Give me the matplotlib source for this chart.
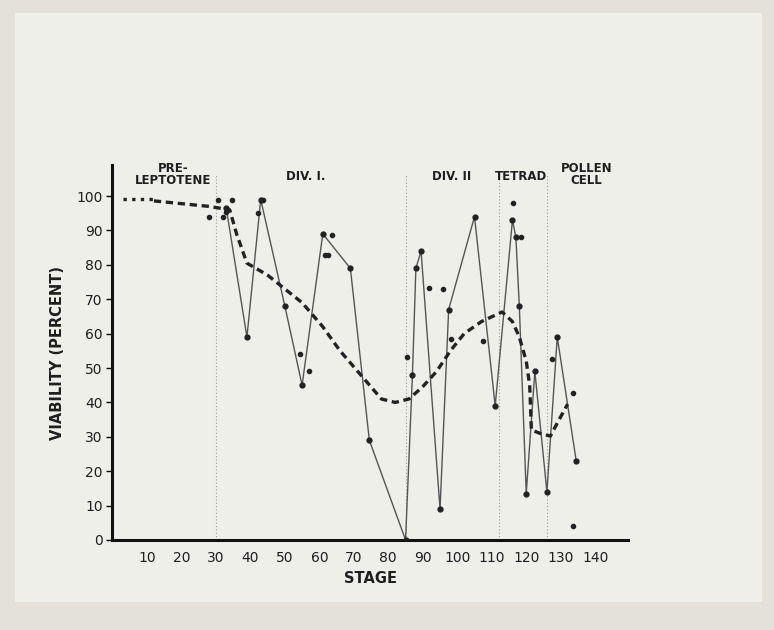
import matplotlib.pyplot as plt
from matplotlib.patches import Rectangle

# Connected observations (solid line)
stage = [33, 39, 43, 50, 55, 61, 69, 74.5, 85, 87, 88, 89.5, 95, 97.5, 105, 111,
         116, 117, 118, 120, 122.5, 126, 129, 134.5]
viability = [96.5, 59, 99, 68, 45, 89, 79, 29, 0, 48, 79, 84, 9, 67, 94, 39,
             93, 88, 68, 13.5, 49, 14, 59, 23]

# Loose observations (dots only)
extra_stage = [28, 30.7, 32, 33, 34.8, 42.3, 43.7, 54.3, 57, 61.6, 62.6, 63.8,
               85.5, 91.7, 95.9, 98.3, 107.5, 116.2, 118.6, 127.5, 133.6, 133.6]
extra_viability = [94, 99, 94, 95.5, 99, 95, 99, 54, 49, 83, 83, 88.7,
                   53.3, 73.2, 73, 58.3, 58, 98, 88, 52.6, 42.7, 4.2]

# Smoothed trend (heavy dashed)
trend_dot_x = [3, 12]
trend_dot_y = [99.2, 99.2]
trend_x = [12, 20, 28, 34, 36, 39, 45, 50, 55, 61, 66, 72, 78, 82, 86, 90, 94,
           98, 102, 107, 113, 116, 118, 120, 121, 121.5, 124, 127, 129, 132]
trend_y = [98.6, 97.8, 97, 96, 89, 80.5, 77, 73, 69, 62, 55, 48, 41, 40, 41,
           44.6, 49, 55, 60, 63.5, 66.3, 63.5, 59, 52, 45, 32, 31, 30.2, 34, 39.5]

# Stage boundaries and labels
boundaries = [30, 85, 112, 126]
phase_names = ["PRE-\nLEPTOTENE", "DIV. I.", "DIV. II", "TETRAD", "POLLEN\nCELL"]
phase_x = [17.5, 56, 98.5, 118.5, 137.5]

xticks = list(range(10, 150, 10))
yticks = list(range(0, 101, 10))

fig = plt.figure(figsize=(7.74, 6.3), dpi=100)
fig.patch.set_facecolor("#e4e2d8")
# the photographed card
fig.add_artist(Rectangle((0.02, 0.045), 0.965, 0.935, transform=fig.transFigure,
                         facecolor="#efefea", edgecolor="none", zorder=0))

ax = fig.add_axes([0.1453, 0.1429, 0.666, 0.595])
ax.set_facecolor("none")

for b in boundaries:
    ax.plot([b, b], [0, 106.5], color="#9a9a96", lw=0.8, ls=(0, (1, 2)), zorder=1)

ax.plot(stage, viability, color="#555555", lw=1.0, marker="o", ms=3.5,
        mfc="#222222", mec="#222222", zorder=3)
ax.plot(extra_stage, extra_viability, ls="none", marker="o", ms=3,
        color="#222222", zorder=3)
ax.plot(trend_dot_x, trend_dot_y, color="#222222", lw=2.4, ls=(0, (1, 1.6)), zorder=4)
ax.plot(trend_x, trend_y, color="#222222", lw=2.4, ls=(0, (2.2, 1.4)), zorder=4)

for name, px in zip(phase_names, phase_x):
    ax.text(px, 110 if "\n" in name else 107.5, name, ha="center", va="top",
            fontsize=8.5, fontweight="bold", color="#1e1e1e", linespacing=0.95)

ax.set_xlim(0, 149.5)
ax.set_ylim(0, 109)
ax.set_xticks(xticks)
ax.set_yticks(yticks)
ax.tick_params(axis="x", length=0, pad=8, labelsize=10, labelcolor="#1e1e1e")
ax.tick_params(axis="y", length=4, width=1, direction="out", pad=3,
               labelsize=10, labelcolor="#1e1e1e")

for side in ["top", "right"]:
    ax.spines[side].set_visible(False)
for side in ["left", "bottom"]:
    ax.spines[side].set_linewidth(2.2)
    ax.spines[side].set_color("#111111")

ax.set_xlabel("STAGE", fontsize=10.5, fontweight="bold", color="#1e1e1e", labelpad=4)
ax.set_ylabel("VIABILITY (PERCENT)", fontsize=10.5, fontweight="bold",
              color="#1e1e1e", labelpad=8)

fig.savefig("out.png", dpi=100, facecolor=fig.get_facecolor())
